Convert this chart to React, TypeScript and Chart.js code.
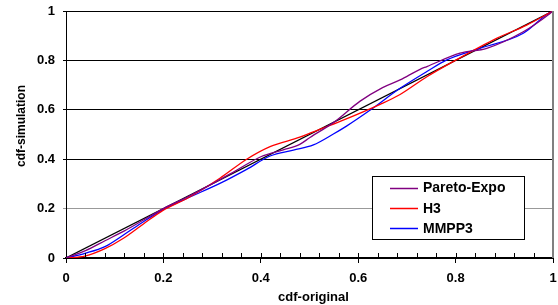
import React, { useEffect, useRef } from "react";
import { Chart, registerables } from "chart.js";

Chart.register(...registerables);

const seriesNames = ["Pareto-Expo", "H3", "MMPP3"];
const seriesColors = ["#800080", "#FF0000", "#0000FF"];

const paretoX = [0, 0.04, 0.08, 0.12, 0.16, 0.2, 0.25, 0.3, 0.35, 0.4, 0.446, 0.48, 0.501, 0.549, 0.604, 0.65, 0.686, 0.727, 0.741, 0.809, 0.864, 0.939, 0.994, 1];
const paretoY = [0, 0.03, 0.07, 0.11, 0.155, 0.2, 0.248, 0.3, 0.355, 0.41, 0.438, 0.46, 0.488, 0.548, 0.635, 0.69, 0.721, 0.764, 0.775, 0.829, 0.849, 0.916, 0.99, 1];

const h3X = [0, 0.039, 0.08, 0.118, 0.159, 0.2, 0.251, 0.316, 0.371, 0.419, 0.48, 0.508, 0.563, 0.645, 0.686, 0.741, 0.795, 0.884, 0.946, 1];
const h3Y = [0, 0.008, 0.038, 0.08, 0.138, 0.194, 0.244, 0.323, 0.4, 0.451, 0.489, 0.511, 0.553, 0.622, 0.662, 0.734, 0.795, 0.889, 0.943, 1];

const mmppX = [0, 0.039, 0.08, 0.118, 0.159, 0.2, 0.251, 0.316, 0.371, 0.419, 0.467, 0.508, 0.549, 0.576, 0.624, 0.686, 0.741, 0.782, 0.843, 0.939, 0.99, 1];
const mmppY = [0, 0.019, 0.046, 0.093, 0.147, 0.197, 0.244, 0.302, 0.359, 0.413, 0.437, 0.458, 0.502, 0.534, 0.598, 0.687, 0.755, 0.802, 0.845, 0.91, 0.99, 1];

const diagX = [0, 1];
const diagY = [0, 1];

const xTicks = [0, 0.2, 0.4, 0.6, 0.8, 1];
const yTicks = [0, 0.2, 0.4, 0.6, 0.8, 1];
const minorStep = 0.04;

const xTitle = "cdf-original";
const yTitle = "cdf-simulation";

const FONT = '"Liberation Sans", Arial, sans-serif';

const toPts = (xs: number[], ys: number[]) => xs.map((x, i) => ({ x, y: ys[i] }));

const decorPlugin = {
  id: "decor",
  afterDatasetsDraw(chart: any) {
    const { ctx, chartArea } = chart;
    const xs = chart.scales.x;
    ctx.save();
    ctx.strokeStyle = "#808080";
    ctx.lineWidth = 2;
    ctx.beginPath();
    ctx.moveTo(chartArea.right, chartArea.top);
    ctx.lineTo(chartArea.right, chartArea.bottom);
    ctx.stroke();
    ctx.strokeStyle = "#000";
    ctx.lineWidth = 1;
    const n = Math.round(1 / minorStep);
    for (let i = 1; i < n; i++) {
      const px = Math.round(xs.getPixelForValue(i * minorStep)) + 0.5;
      ctx.beginPath();
      ctx.moveTo(px, chartArea.bottom);
      ctx.lineTo(px, chartArea.bottom - 5);
      ctx.stroke();
    }
    const lx = 372, ly = 176, lw = 152, lh = 63;
    ctx.fillStyle = "#fff";
    ctx.fillRect(lx, ly, lw, lh);
    ctx.strokeStyle = "#000";
    ctx.lineWidth = 1;
    ctx.strokeRect(lx + 0.5, ly + 0.5, lw, lh);
    ctx.font = "bold 14px " + FONT;
    ctx.textBaseline = "middle";
    ctx.textAlign = "left";
    seriesNames.forEach((name, i) => {
      const cy = 187.5 + i * 20.2;
      ctx.strokeStyle = seriesColors[i];
      ctx.lineWidth = 1.5;
      ctx.beginPath();
      ctx.moveTo(390, Math.round(cy) + 0.5);
      ctx.lineTo(418, Math.round(cy) + 0.5);
      ctx.stroke();
      ctx.fillStyle = "#000";
      ctx.fillText(name, 423, cy + 1);
    });
    ctx.fillStyle = "#000";
    ctx.font = "bold 13px " + FONT;
    ctx.textAlign = "center";
    ctx.textBaseline = "middle";
    ctx.fillText(xTitle, (chartArea.left + chartArea.right) / 2 + 4, 297);
    ctx.save();
    ctx.translate(22, 126);
    ctx.rotate(-Math.PI / 2);
    ctx.font = "bold 12px " + FONT;
    ctx.fillText(yTitle, 0, 0);
    ctx.restore();
    ctx.restore();
  },
};

export default function App() {
  const ref = useRef<HTMLCanvasElement | null>(null);
  useEffect(() => {
    document.body.style.margin = "0";
    const canvas = ref.current!;
    const chart = new Chart(canvas, {
      type: "line",
      data: {
        datasets: [
          { label: seriesNames[0], data: toPts(paretoX, paretoY), borderColor: seriesColors[0], borderWidth: 1.3, pointRadius: 0, cubicInterpolationMode: "monotone", fill: false },
          { label: seriesNames[1], data: toPts(h3X, h3Y), borderColor: seriesColors[1], borderWidth: 1.3, pointRadius: 0, cubicInterpolationMode: "monotone", fill: false },
          { label: seriesNames[2], data: toPts(mmppX, mmppY), borderColor: seriesColors[2], borderWidth: 1.3, pointRadius: 0, cubicInterpolationMode: "monotone", fill: false },
          { label: "diag", data: toPts(diagX, diagY), borderColor: "#000", borderWidth: 1.2, pointRadius: 0, fill: false },
        ],
      },
      options: {
        animation: false,
        responsive: false,
        events: [],
        layout: { padding: { left: 0, right: 5, top: 11, bottom: 0 } },
        plugins: { legend: { display: false }, tooltip: { enabled: false } },
        scales: {
          x: {
            type: "linear",
            min: 0,
            max: 1,
            afterFit: (s: any) => { s.height = 47; s.paddingRight = 0; },
            afterBuildTicks: (s: any) => { s.ticks = xTicks.map((v) => ({ value: v })); },
            grid: { drawOnChartArea: false, drawTicks: true, tickLength: 5, color: "#000", lineWidth: 1 },
            border: { color: "#000", width: 2 },
            ticks: {
              color: "#000",
              padding: 8,
              maxRotation: 0,
              font: { family: FONT, size: 13, weight: "bold" },
              callback: (v: any) => String(Math.round(v * 10) / 10),
            },
          },
          y: {
            type: "linear",
            min: 0,
            max: 1,
            afterFit: (s: any) => { s.width = 66; s.paddingTop = 0; },
            afterBuildTicks: (s: any) => { s.ticks = yTicks.map((v) => ({ value: v })); },
            grid: {
              drawTicks: true,
              tickLength: 3,
              lineWidth: 1,
              color: (c: any) => (c.tick && Math.abs(c.tick.value - 0.2) < 1e-6 ? "#999999" : "#000000"),
            },
            border: { color: "#000", width: 1 },
            ticks: {
              color: "#000",
              padding: 8,
              font: { family: FONT, size: 13, weight: "bold" },
              callback: (v: any) => String(Math.round(v * 10) / 10),
            },
          },
        },
      } as any,
      plugins: [decorPlugin],
    });
    return () => chart.destroy();
  }, []);
  return <canvas ref={ref} width={558} height={305} style={{ display: "block", width: 558, height: 305 }} />;
}
